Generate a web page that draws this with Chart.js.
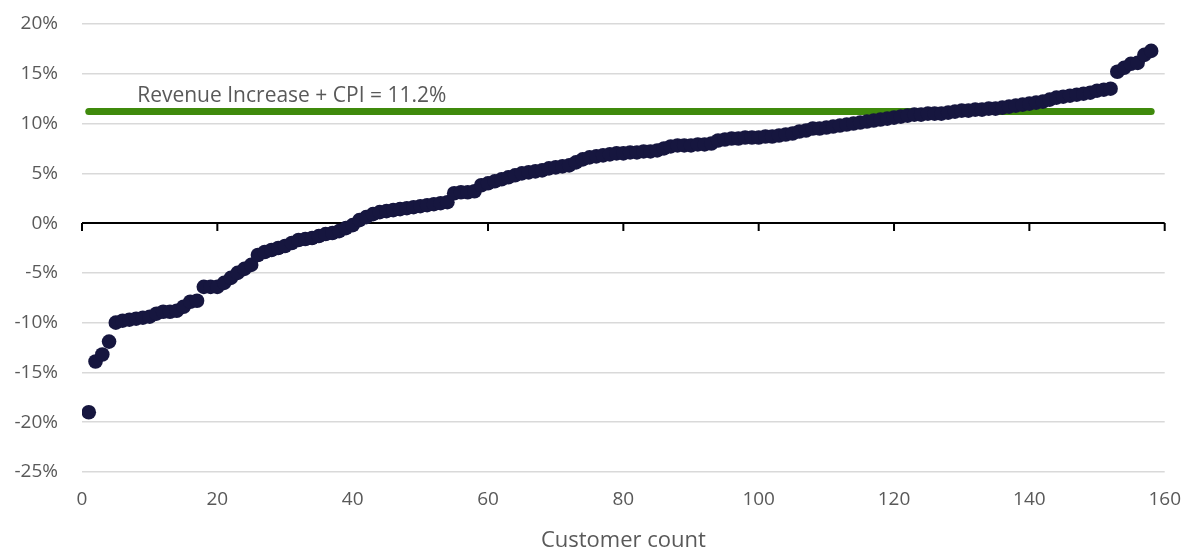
<!DOCTYPE html>
<html>
<head>
<meta charset="utf-8">
<title>Customer count scatter</title>
<script src="https://cdn.jsdelivr.net/npm/chart.js@4"></script>
<style>
  html, body { margin: 0; padding: 0; background: #ffffff; }
  canvas { display: block; }
</style>
</head>
<body>
<canvas id="chart" width="1197" height="554"></canvas>
<script>
// ----------------------------
// Data
// ----------------------------
const customerChange = [
  -19.0, -13.9, -13.2, -11.9, -10.0, -9.8, -9.7, -9.6, -9.5, -9.4,
  -9.1, -8.9, -8.9, -8.8, -8.4, -7.9, -7.8, -6.4, -6.4, -6.4,
  -6.0, -5.5, -5.0, -4.6, -4.2, -3.2, -2.9, -2.7, -2.5, -2.3,
  -2.0, -1.7, -1.6, -1.5, -1.3, -1.1, -1.0, -0.8, -0.5, -0.2,
  0.3, 0.6, 0.9, 1.1, 1.2, 1.3, 1.4, 1.5, 1.6, 1.7,
  1.8, 1.9, 2.0, 2.1, 3.0, 3.1, 3.1, 3.2, 3.8, 4.0,
  4.2, 4.4, 4.6, 4.8, 5.0, 5.1, 5.2, 5.3, 5.5, 5.6,
  5.7, 5.8, 6.1, 6.4, 6.6, 6.7, 6.8, 6.9, 7.0, 7.0,
  7.1, 7.1, 7.2, 7.2, 7.3, 7.5, 7.7, 7.8, 7.8, 7.8,
  7.9, 7.9, 8.0, 8.3, 8.4, 8.5, 8.5, 8.6, 8.6, 8.6,
  8.7, 8.7, 8.8, 8.9, 9.0, 9.2, 9.3, 9.5, 9.5, 9.6,
  9.7, 9.8, 9.9, 10.0, 10.1, 10.2, 10.3, 10.4, 10.5, 10.6,
  10.7, 10.8, 10.9, 10.9, 11.0, 11.0, 11.0, 11.1, 11.2, 11.3,
  11.3, 11.4, 11.4, 11.5, 11.5, 11.6, 11.7, 11.8, 11.9, 12.0,
  12.1, 12.2, 12.4, 12.6, 12.7, 12.8, 12.9, 13.0, 13.1, 13.3,
  13.4, 13.5, 15.2, 15.6, 16.0, 16.1, 16.9, 17.3
];
const customerIndex = customerChange.map((v, i) => i + 1);

const targetValue = 11.2;
const targetRange = [1, 158];
const targetLabel = "Revenue Increase + CPI = 11.2%";
const targetLabelAt = [31, 12.75];

const xTicks = [0, 20, 40, 60, 80, 100, 120, 140, 160];
const yTicks = [-25, -20, -15, -10, -5, 0, 5, 10, 15, 20];

// ----------------------------
// Style
// ----------------------------
const FONT = "'Open Sans', 'Liberation Sans', sans-serif";
const TEXT_GREY = "#595959";
const GRID_GREY = "#d9d9d9";
const DOT_NAVY = "#16163f";
const TARGET_GREEN = "#3f8a0c";

// ----------------------------
// Plugin: zero axis tick marks + target label
// ----------------------------
const zeroAxisPlugin = {
  id: "zeroAxis",
  beforeDatasetsDraw(chart) {
    const { ctx, scales } = chart;
    const y0 = scales.y.getPixelForValue(0);
    ctx.save();
    ctx.strokeStyle = "#000000";
    ctx.lineWidth = 2;
    ctx.beginPath();
    xTicks.forEach(t => {
      const px = scales.x.getPixelForValue(t);
      ctx.moveTo(px, y0);
      ctx.lineTo(px, y0 + 8);
    });
    ctx.stroke();
    ctx.restore();
  },
  afterDatasetsDraw(chart) {
    const { ctx, scales } = chart;
    ctx.save();
    ctx.font = "21px " + FONT;
    ctx.fillStyle = TEXT_GREY;
    ctx.textAlign = "center";
    ctx.textBaseline = "middle";
    ctx.fillText(targetLabel,
      scales.x.getPixelForValue(targetLabelAt[0]),
      scales.y.getPixelForValue(targetLabelAt[1]));
    ctx.restore();
  }
};

// ----------------------------
// Chart
// ----------------------------
const ctx = document.getElementById("chart").getContext("2d");
new Chart(ctx, {
  type: "scatter",
  data: {
    datasets: [
      {
        label: "Customers",
        data: customerIndex.map((x, i) => ({ x: x, y: customerChange[i] })),
        backgroundColor: DOT_NAVY,
        borderColor: DOT_NAVY,
        borderWidth: 0,
        pointRadius: 7.3,
        pointHoverRadius: 7.3,
        order: 1
      },
      {
        type: "line",
        label: "Target",
        data: targetRange.map(x => ({ x: x, y: targetValue })),
        borderColor: TARGET_GREEN,
        borderWidth: 7,
        borderCapStyle: "round",
        pointRadius: 0,
        fill: false,
        order: 2
      }
    ]
  },
  options: {
    responsive: false,
    animation: false,
    layout: { padding: { top: 24, right: 31, bottom: 0, left: 0 } },
    plugins: {
      legend: { display: false },
      tooltip: { enabled: false }
    },
    scales: {
      x: {
        type: "linear",
        min: 0,
        max: 160,
        afterBuildTicks: s => { s.ticks = xTicks.map(v => ({ value: v })); },
        afterFit: s => { s.height = 82; },
        grid: { display: false, drawTicks: false },
        border: { display: false },
        ticks: {
          color: TEXT_GREY,
          font: { family: FONT, size: 19 },
          padding: 16,
          maxRotation: 0
        },
        title: {
          display: true,
          text: "Customer count",
          color: TEXT_GREY,
          font: { family: FONT, size: 22 },
          padding: { top: 6, bottom: 0 }
        }
      },
      y: {
        type: "linear",
        min: -25,
        max: 20,
        afterBuildTicks: s => { s.ticks = yTicks.map(v => ({ value: v })); },
        afterFit: s => {
          s.width = 82;
          s.paddingTop = 0;
          s.paddingBottom = 0;
        },
        grid: {
          drawTicks: false,
          color: c => c.tick && c.tick.value === 0 ? "#000000" : GRID_GREY,
          lineWidth: c => c.tick && c.tick.value === 0 ? 2 : 1.5
        },
        border: { display: false },
        ticks: {
          color: TEXT_GREY,
          font: { family: FONT, size: 19 },
          padding: 24,
          callback: v => v + "%"
        }
      }
    }
  },
  plugins: [zeroAxisPlugin]
});
</script>
</body>
</html>
